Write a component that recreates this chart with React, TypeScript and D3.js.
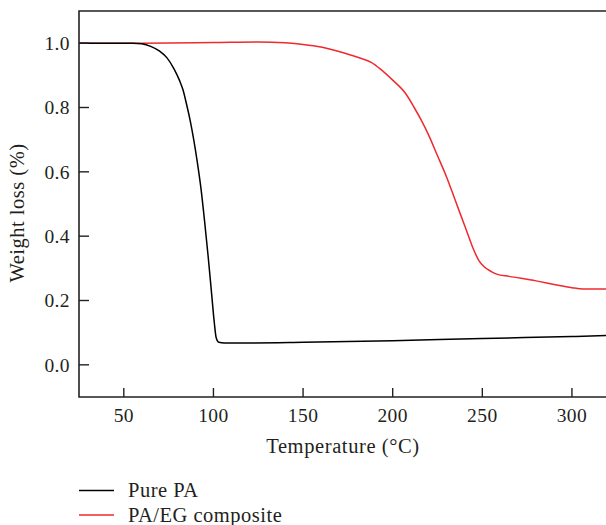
import React from "react";
import * as d3 from "d3";

const pureTemp = [25, 55, 60, 65, 70, 74, 78, 81, 83, 85, 87, 89, 91, 93, 95, 97, 99, 100.5, 101.5, 103, 106, 120, 150, 200, 250, 300, 319];
const pureVal = [1.0, 1.0, 0.998, 0.99, 0.975, 0.955, 0.92, 0.885, 0.855, 0.81, 0.76, 0.70, 0.63, 0.55, 0.45, 0.34, 0.22, 0.13, 0.085, 0.07, 0.068, 0.068, 0.07, 0.075, 0.082, 0.088, 0.091];

const compTemp = [25, 60, 100, 125, 140, 150, 160, 170, 180, 188, 193, 200, 207, 212, 216, 220, 225, 230, 235, 241, 245, 248, 251, 255, 258, 265, 280, 290, 300, 306, 319];
const compVal = [1.0, 1.0, 1.002, 1.004, 1.001, 0.996, 0.988, 0.974, 0.957, 0.94, 0.92, 0.885, 0.845, 0.80, 0.76, 0.715, 0.65, 0.585, 0.51, 0.42, 0.36, 0.325, 0.305, 0.29, 0.282, 0.275, 0.261, 0.25, 0.24, 0.236, 0.236];

const xTicks = [50, 100, 150, 200, 250, 300];
const yTicks = [0.0, 0.2, 0.4, 0.6, 0.8, 1.0];
const seriesNames = ["Pure PA", "PA/EG composite"];
const seriesColors = ["#000000", "#ee2a2e"];

const W = 606, H = 525;
const left = 79, right = 606, top = 11, bottom = 397;
const FONT = "'Liberation Serif', 'Times New Roman', serif";
const TXT = "#231f20";

export default function App() {
  const x = d3.scaleLinear().domain([25, 319]).range([left, right]);
  const y = d3.scaleLinear().domain([-0.1, 1.1]).range([bottom, top]);
  const line = d3
    .line<[number, number]>()
    .x((d) => x(d[0]))
    .y((d) => y(d[1]))
    .curve(d3.curveMonotoneX);
  const pure = pureTemp.map((t, i) => [t, pureVal[i]] as [number, number]);
  const comp = compTemp.map((t, i) => [t, compVal[i]] as [number, number]);
  const fmt = d3.format(".1f");

  return (
    <svg width={W} height={H} style={{ position: "absolute", left: 0, top: 0, background: "#fff" }} fontFamily={FONT}>
      <defs>
        <clipPath id="plot">
          <rect x={left} y={top} width={right - left} height={bottom - top} />
        </clipPath>
      </defs>
      <g clipPath="url(#plot)" fill="none" strokeWidth={1.5}>
        <path d={line(comp) || ""} stroke={seriesColors[1]} />
        <path d={line(pure) || ""} stroke={seriesColors[0]} />
      </g>
      <path
        d={`M${right + 2},${top} H${left} V${bottom} H${right + 2}`}
        fill="none"
        stroke="#222"
        strokeWidth={1.6}
      />
      {yTicks.map((v) => (
        <g key={"y" + v}>
          <line x1={left} x2={left + 10} y1={y(v)} y2={y(v)} stroke="#222" strokeWidth={1.4} />
          <text x={left - 9} y={y(v)} dy="0.35em" textAnchor="end" fontSize={19.5} letterSpacing={0.4} fill={TXT}>
            {fmt(v)}
          </text>
        </g>
      ))}
      {xTicks.map((v) => (
        <g key={"x" + v}>
          <line x1={x(v)} x2={x(v)} y1={bottom} y2={bottom - 9} stroke="#222" strokeWidth={1.4} />
          <text x={x(v)} y={bottom + 25} textAnchor="middle" fontSize={19.5} letterSpacing={0.4} fill={TXT}>
            {v}
          </text>
        </g>
      ))}
      <text x={343} y={453} textAnchor="middle" fontSize={20.5} letterSpacing={0.6} fill={TXT}>
        Temperature (°C)
      </text>
      <text
        transform={`translate(24,${(top + bottom) / 2 + 9}) rotate(-90)`}
        textAnchor="middle"
        fontSize={20.5}
        letterSpacing={0.5}
        fill={TXT}
      >
        Weight loss (%)
      </text>
      {seriesNames.map((n, i) => (
        <g key={n}>
          <line x1={79} x2={114} y1={490.5 + i * 24.5} y2={490.5 + i * 24.5} stroke={seriesColors[i]} strokeWidth={1.5} />
          <text x={128} y={497 + i * 24.5} fontSize={20.5} letterSpacing={0.5} fill={TXT}>
            {n}
          </text>
        </g>
      ))}
    </svg>
  );
}
